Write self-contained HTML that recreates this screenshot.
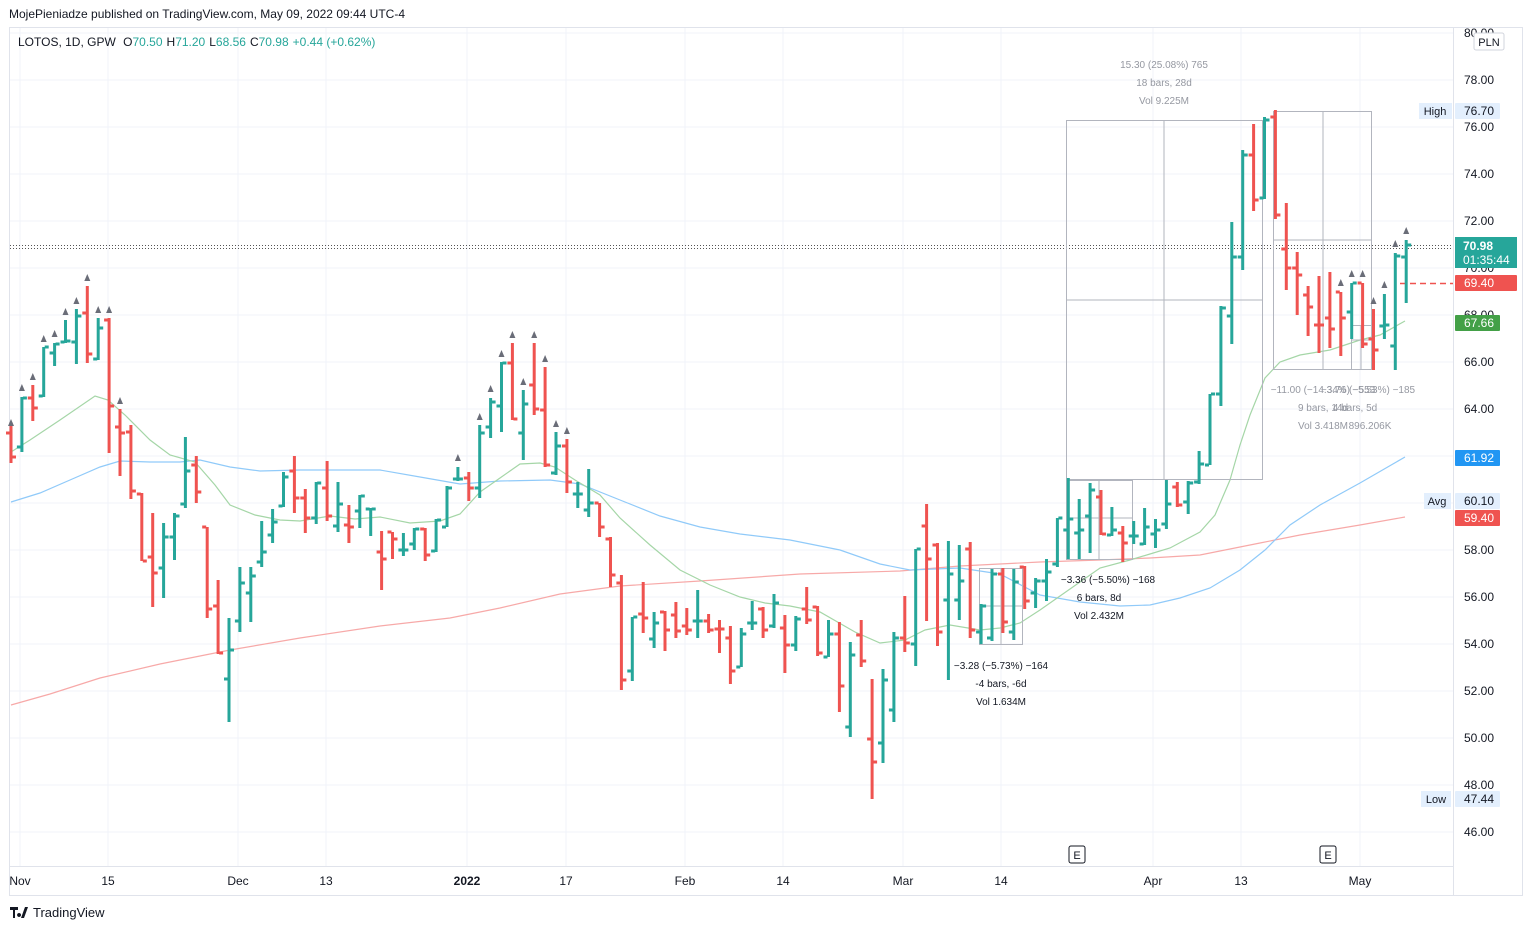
<!DOCTYPE html>
<html><head><meta charset="utf-8">
<style>
html,body{margin:0;padding:0;background:#fff;}
body{width:1532px;height:930px;overflow:hidden;font-family:"Liberation Sans",sans-serif;}
svg text{font-family:"Liberation Sans",sans-serif;}
</style></head>
<body>
<svg id="c" width="1532" height="930" xmlns="http://www.w3.org/2000/svg"></svg>
<script>
const S=document.getElementById('c');
const NS='http://www.w3.org/2000/svg';
function el(t,a,txt){const e=document.createElementNS(NS,t);for(const k in a)e.setAttribute(k,a[k]);if(txt!==undefined)e.textContent=txt;S.appendChild(e);return e;}
// frame
el('rect',{x:9.5,y:27.5,width:1513,height:868,fill:'#fff',stroke:'#e0e3eb'});
el('line',{x1:1453.5,y1:27,x2:1453.5,y2:895,stroke:'#e0e3eb'});
el('line',{x1:9,y1:866.5,x2:1453,y2:866.5,stroke:'#e0e3eb'});
// grid
const yp=p=>33+(80-p)*23.5;
for(let p=46;p<=80;p+=2){const y=yp(p);el('line',{x1:10,y1:y,x2:1453,y2:y,stroke:'#f0f3fa'});}
const dates=[[20,'Nov'],[108,'15'],[238,'Dec'],[326,'13'],[467,'2022'],[566,'17'],[685,'Feb'],[783,'14'],[903,'Mar'],[1001,'14'],[1153,'Apr'],[1241,'13'],[1360,'May']];
dates.forEach(d=>{el('line',{x1:d[0],y1:28,x2:d[0],y2:866,stroke:'#f0f3fa'});
 el('text',{x:d[0],y:885,'font-size':12,fill:'#131722','text-anchor':'middle','font-weight':d[1]=='2022'?'bold':'normal'},d[1]);});
// MAs
function pl(pts,c){el('polyline',{points:pts.map(p=>p.join(',')).join(' '),fill:'none',stroke:c,'stroke-width':1.2});}
pl([[11,705],[50,694],[100,678],[160,664],[230,650],[300,638],[380,626],[450,618],[500,608],[560,594],[620,586],[700,581],[800,574],[900,571],[960,566],[1040,562],[1100,560],[1150,558],[1200,555],[1260,543],[1300,535],[1360,525],[1405,517]],'#f7a9a8');
pl([[11,502],[40,493],[70,480],[100,467],[120,461],[150,462],[180,462],[200,460],[230,467],[260,471],[300,470],[340,470],[380,470],[420,477],[460,484],[500,481],[550,480],[580,484],[620,500],[660,516],[700,527],[740,534],[790,540],[840,550],[880,564],[910,570],[960,568],[1000,574],[1040,595],[1080,602],[1120,606],[1150,605],[1180,598],[1210,588],[1240,570],[1265,550],[1290,525],[1320,505],[1360,483],[1405,457]],'#90caf9');
pl([[11,452],[30,440],[60,420],[95,396],[108,400],[125,415],[150,440],[170,455],[195,462],[215,485],[230,505],[255,515],[280,520],[300,521],[330,516],[355,519],[380,517],[410,523],[440,521],[460,514],[480,492],[500,478],[520,464],[540,463],[555,467],[575,480],[600,495],[620,518],[650,545],[680,570],[710,585],[740,597],[765,603],[790,606],[820,612],[855,632],[880,643],[905,640],[925,630],[950,625],[980,630],[1000,628],[1020,623],[1040,610],[1060,596],[1080,582],[1100,568],[1130,560],[1150,554],[1170,548],[1200,532],[1215,515],[1230,480],[1240,445],[1250,415],[1265,378],[1280,362],[1300,355],[1330,350],[1360,340],[1380,335],[1405,321]],'#a5d6a7');
// dotted last price lines
el('line',{x1:10,y1:245.5,x2:1453,y2:245.5,stroke:'#555','stroke-dasharray':'1,2'});
el('line',{x1:10,y1:248.5,x2:1453,y2:248.5,stroke:'#555','stroke-dasharray':'1,2'});
el('line',{x1:1400,y1:283.5,x2:1453,y2:283.5,stroke:'#ef5350','stroke-width':1.5,'stroke-dasharray':'6,4'});
// measure boxes
const G='#b2b5be';
function box(x,y,w,h,vx,hy){el('rect',{x:x+.5,y:y+.5,width:w,height:h,fill:'none',stroke:G});
 el('line',{x1:vx,y1:y,x2:vx,y2:y+h,stroke:G});el('line',{x1:x,y1:hy,x2:x+w,y2:hy,stroke:G});}
box(1066,120,196,359,1164,300);
box(1066,480,66,79,1099,518);
box(979,568,43,76,1001,606);
box(1273,111,98,258,1323,240);
box(1351,325,21,44,1361,340);
function tx(x,y,s,c){el('text',{x:x,y:y,'font-size':10,fill:c,'text-anchor':'middle'},s);}
tx(1164,68,'15.30 (25.08%) 765','#9598a1');tx(1164,86,'18 bars, 28d','#9598a1');tx(1164,104,'Vol 9.225M','#9598a1');
tx(1108,583,'−3.36 (−5.50%) −168','#131722');tx(1099,601,'6 bars, 8d','#131722');tx(1099,619,'Vol 2.432M','#131722');
tx(1001,669,'−3.28 (−5.73%) −164','#131722');tx(1001,687,'-4 bars, -6d','#131722');tx(1001,705,'Vol 1.634M','#131722');
tx(1323,393,'−11.00 (−14.34%) −553','#9598a1');tx(1368,393,'−3.76 (−5.53%) −185','#9598a1');
tx(1323,411,'9 bars, 14d','#9598a1');tx(1355,411,'4 bars, 5d','#9598a1');
tx(1323,429,'Vol 3.418M','#9598a1');tx(1370,429,'896.206K','#9598a1');
// bars [i,h,l,o,c,col]
const B=[[0,422,463,433,457,'r'],[1,397,452,447,398,'g'],[2,385,421,398,408,'r'],[3,347,397,396,347,'g'],[4,343,366,353,344,'g'],[5,320,343,342,341,'g'],[6,309,364,342,316,'g'],[7,286,363,313,354,'r'],[8,318,360,359,328,'g'],[9,318,453,320,406,'r'],
[10,409,476,427,433,'r'],[11,425,499,432,491,'r'],[12,493,561,494,561,'r'],[13,513,607,557,573,'r'],[14,523,598,568,537,'g'],[15,513,560,537,516,'g'],[16,437,508,504,471,'g'],[17,456,503,465,492,'r'],[18,527,618,527,609,'r'],[19,580,654,606,653,'r'],
[20,618,722,679,650,'g'],[21,567,632,621,583,'g'],[22,567,622,593,576,'g'],[23,521,567,562,552,'g'],[24,509,543,535,522,'g'],[25,472,507,506,477,'g'],[26,456,513,471,498,'r'],[27,489,533,498,518,'r'],[28,482,524,518,483,'g'],[29,461,521,488,516,'r'],
[30,482,532,526,504,'g'],[31,505,543,525,527,'r'],[32,495,528,511,496,'g'],[33,508,536,509,509,'g'],[34,531,590,552,559,'r'],[35,532,559,532,539,'r'],[36,533,556,550,550,'g'],[37,528,550,544,529,'g'],[38,528,561,529,555,'r'],[39,519,552,551,520,'g'],
[40,486,527,527,488,'g'],[41,467,481,479,479,'g'],[42,472,501,478,488,'r'],[43,425,498,488,433,'g'],[44,398,438,427,402,'g'],[45,362,432,406,363,'g'],[46,343,420,363,419,'r'],[47,390,460,433,404,'g'],[48,343,415,385,409,'r'],[49,367,467,410,465,'r'],
[50,432,475,473,446,'g'],[51,439,493,446,482,'r'],[52,482,508,494,494,'g'],[53,469,517,510,503,'g'],[54,503,537,503,527,'r'],[55,537,587,539,575,'r'],[56,575,690,583,680,'r'],[57,617,681,671,617,'g'],[58,582,633,614,618,'r'],[59,612,648,639,623,'g'],
[60,611,651,612,630,'r'],[61,602,638,615,631,'r'],[62,608,635,626,630,'r'],[63,590,638,621,621,'g'],[64,614,633,621,630,'r'],[65,620,653,629,629,'r'],[66,626,684,638,671,'r'],[67,628,667,667,634,'g'],[68,601,630,623,623,'g'],[69,607,638,609,630,'r'],
[70,594,628,626,603,'g'],[71,615,673,628,645,'r'],[72,616,651,645,619,'g'],[73,587,624,609,620,'r'],[74,606,656,607,653,'r'],[75,620,657,657,634,'g'],[76,622,712,634,686,'r'],[77,642,737,727,655,'g'],[78,620,667,635,661,'r'],[79,679,799,739,762,'r'],
[80,669,763,743,680,'g'],[81,632,722,710,638,'g'],[82,596,652,638,643,'r'],[83,549,666,644,549,'g'],[84,504,621,526,559,'r'],[85,543,646,545,632,'r'],[86,541,680,600,574,'g'],[87,545,620,600,581,'g'],[88,542,638,549,630,'r'],[89,604,644,632,606,'g'],
[90,569,641,638,574,'g'],[91,568,633,574,622,'r'],[92,569,640,632,582,'g'],[93,566,609,567,601,'r'],[94,578,608,593,581,'g'],[95,559,601,581,572,'g'],[96,518,567,564,518,'g'],[97,478,559,530,519,'g'],[98,499,559,533,530,'g'],[99,483,553,516,490,'g'],
[100,490,535,497,534,'r'],[101,507,536,535,530,'g'],[102,526,562,533,543,'r'],[103,521,544,536,536,'g'],[104,508,545,544,527,'g'],[105,519,548,534,530,'g'],[106,480,529,524,504,'g'],[107,482,507,487,505,'r'],[108,481,514,502,483,'g'],[109,451,484,482,464,'g'],
[110,394,465,465,394,'g'],[111,306,406,394,308,'g'],[112,222,344,316,257,'g'],[113,150,270,257,155,'g'],[114,124,211,155,200,'r'],[115,117,199,198,120,'g'],[116,110,219,117,215,'r'],[117,203,290,249,268,'r'],[118,252,315,268,275,'r'],[119,286,336,295,307,'r'],
[120,276,353,325,325,'r'],[121,272,348,318,329,'r'],[122,292,356,292,318,'r'],[123,283,339,312,283,'g'],[124,283,348,283,344,'r'],[125,309,370,339,350,'r'],[126,294,339,326,325,'g'],[127,253,370,346,256,'g'],[128,240,303,257,245,'g']];
const bx=i=>11+10.9*i;
B.forEach(b=>{const x=bx(b[0]);const c=b[5]=='g'?'#26a69a':'#ef5350';
 el('rect',{x:x-1.5,y:b[1],width:3,height:b[2]-b[1],fill:c});
 el('rect',{x:x-5,y:b[3]-1.5,width:4,height:3,fill:c});
 el('rect',{x:x+1,y:b[4]-1.5,width:4,height:3,fill:c});});
// triangles
const T=[[0,423],[1,388],[2,377],[3,339],[4,334],[5,312],[6,301],[7,278],[8,310],[9,310],[10,401],[41,458],[43,417],[44,389],[45,354],[46,335],[47,382],[48,335],[49,359],[50,424],[51,431],[122,283],[123,274],[124,274],[125,301],[126,285],[127,244],[128,231]];
T.forEach(t=>{const x=bx(t[0]),y=t[1];el('polygon',{points:`${x-3},${y+3} ${x+3},${y+3} ${x},${y-4}`,fill:'#6a6d78'});});
// price axis labels
for(let p=46;p<=80;p+=2){el('text',{x:1494,y:yp(p)+4,'font-size':12,fill:'#131722','text-anchor':'end'},p.toFixed(2));}
function tag(y,bg,fg,t,w){el('rect',{x:1455,y:y-8,width:w||45,height:16,fill:bg,rx:1});el('text',{x:1494,y:y+4,'font-size':12,fill:fg,'text-anchor':'end'},t);}
el('rect',{x:1474,y:33,width:30,height:17,fill:'#fff',stroke:'#d1d4dc',rx:2});el('text',{x:1489,y:46,'font-size':11,fill:'#131722','text-anchor':'middle'},'PLN');
el('rect',{x:1419,y:103,width:33,height:16,fill:'#e3effd'});el('text',{x:1435,y:115,'font-size':11,fill:'#131722','text-anchor':'middle'},'High');
tag(111,'#e3effd','#131722','76.70');
el('rect',{x:1455,y:237,width:62,height:31,fill:'#26a69a'});
el('text',{x:1463,y:250,'font-size':12,fill:'#fff','font-weight':'bold'},'70.98');
el('text',{x:1463,y:264,'font-size':12,fill:'#fff'},'01:35:44');
tag(283,'#ef5350','#fff','69.40',62);
tag(323,'#43a047','#fff','67.66',45);
tag(458,'#2196f3','#fff','61.92',45);
el('rect',{x:1424,y:493,width:27,height:16,fill:'#e3effd'});el('text',{x:1437,y:505,'font-size':11,fill:'#131722','text-anchor':'middle'},'Avg');
tag(501,'#e3effd','#131722','60.10');
tag(518,'#ef5350','#fff','59.40');
el('rect',{x:1421,y:791,width:30,height:16,fill:'#e3effd'});el('text',{x:1436,y:803,'font-size':11,fill:'#131722','text-anchor':'middle'},'Low');
tag(799,'#e3effd','#131722','47.44');
// E markers
[1077,1328].forEach(x=>{el('rect',{x:x-8,y:846,width:16,height:17,fill:'#fff',stroke:'#131722','stroke-width':1,rx:2});el('text',{x:x,y:859,'font-size':11,fill:'#131722','text-anchor':'middle'},'E');});
// header
el('text',{x:9,y:18,'font-size':12,fill:'#131722'},'MojePieniadze published on TradingView.com, May 09, 2022 09:44 UTC-4');
const lg=el('text',{x:18,y:46,'font-size':12,fill:'#131722'});
lg.innerHTML='LOTOS, 1D, GPW <tspan fill="#131722" dx="4">O</tspan><tspan fill="#26a69a">70.50</tspan><tspan dx="4">H</tspan><tspan fill="#26a69a">71.20</tspan><tspan dx="4">L</tspan><tspan fill="#26a69a">68.56</tspan><tspan dx="4">C</tspan><tspan fill="#26a69a">70.98</tspan><tspan fill="#26a69a" dx="4">+0.44 (+0.62%)</tspan>';
// footer logo
el('path',{d:'M10 907h8v3h-3v8h-2v-8h-3z M19 913a2 2 0 1 0 0.1 0z M21 918l4-11h3l-4 11z',fill:'#131722'});
el('text',{x:33,y:917,'font-size':13,fill:'#131722'},'TradingView');
</script>
</body></html>
